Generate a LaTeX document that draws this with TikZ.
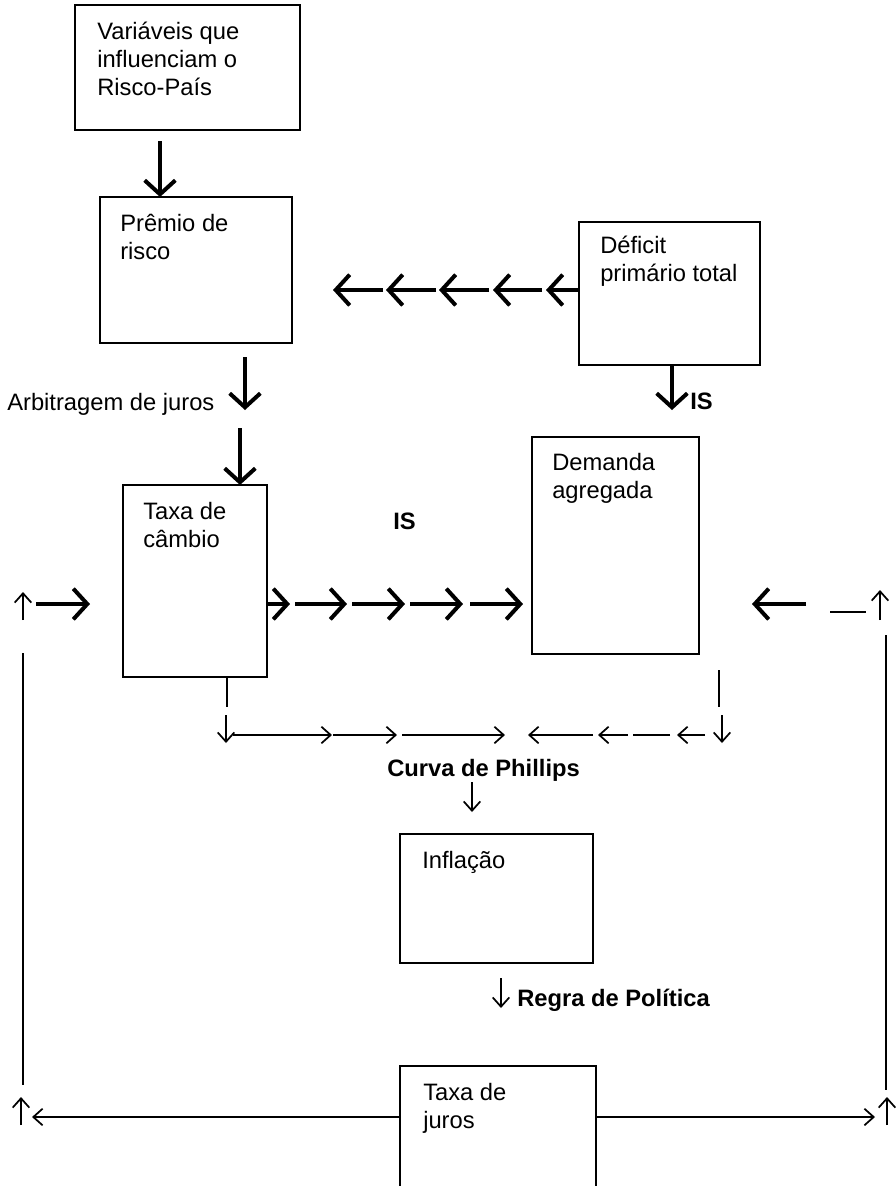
\documentclass[tikz,border=0pt]{standalone}
\usepackage{fontspec}
\setmainfont{Liberation Sans}
\usetikzlibrary{arrows.meta}
\begin{document}
\begin{tikzpicture}[x=0.75pt,y=-0.75pt,
  every node/.style={font=\fontsize{17.8pt}{21pt}\selectfont},
  box/.style={draw,line width=1.5pt,anchor=north west,inner sep=0pt,outer sep=0pt},
  txt/.style={anchor=base west,align=left,inner sep=0pt},
  bigarrow/.style={line width=3pt,-{Straight Barb[length=10.5pt,width=23pt]}},
  thinarrow/.style={line width=1.3pt,-{Straight Barb[length=7pt,width=12.5pt]}},
  thinline/.style={line width=1.3pt}]
\useasboundingbox (0,0) rectangle (896,1186);
\clip (0,0) rectangle (896,1186);
\fill[white] (0,0) rectangle (896,1186);

% boxes
\node[box,minimum width=168.75pt,minimum height=93.75pt] (b1) at (75,5) {};
\node[box,minimum width=144pt,minimum height=109.5pt] (b2) at (100,197) {};
\node[box,minimum width=108pt,minimum height=144pt] (b3) at (123,485) {};
\node[box,minimum width=125.25pt,minimum height=162.75pt] (b4) at (532,437) {};
\node[box,minimum width=135.75pt,minimum height=107.25pt] (b5) at (579,222) {};
\node[box,minimum width=147pt,minimum height=97.5pt] (b6) at (400,1066) {};
\node[box,minimum width=144.75pt,minimum height=96.75pt] (b7) at (400,834) {};

% texts (anchor at the baseline of the last line)
\node[txt] (t1) at (97,95) {Variáveis que\\influenciam o\\Risco-País};
\node[txt] (t2) at (120,259) {Prêmio de\\risco};
\node[txt] (t3) at (143,547) {Taxa de\\câmbio};
\node[txt] (t4) at (552,498) {Demanda\\agregada};
\node[txt] (t5) at (600,281) {Déficit\\primário total};
\node[txt] (t6) at (423,1128) {Taxa de\\juros};
\node[txt] (t7) at (422,868) {Inflação};
\node[txt] (arb) at (7,410) {Arbitragem de juros};
\node[txt] (is1) at (393,529) {\bfseries IS};
\node[txt] (is2) at (690,409) {\bfseries IS};
\node[txt] (cp) at (387,776) {\bfseries Curva de Phillips};
\node[txt] (rp) at (517,1006) {\bfseries Regra de Política};

% vertical thick arrows on the left column
\coordinate (a1s) at (160,141);
\draw[bigarrow] (a1s) -- (a1s |- b2.north);
\coordinate (a2s) at (245,357);
\coordinate (a2e) at (245,410);
\draw[bigarrow] (a2s) -- (a2e);
\coordinate (a3s) at (240,428);
\draw[bigarrow] (a3s) -- (a3s |- b3.north);

% chain to Demanda agregada
\coordinate (r1) at (290,604);
\coordinate (r2s) at (295,604); \coordinate (r2) at (347,604);
\coordinate (r3s) at (352,604); \coordinate (r3) at (405,604);
\coordinate (r4s) at (410,604); \coordinate (r4) at (463,604);
\coordinate (r5s) at (470,604); \coordinate (r5) at (523,604);
\draw[bigarrow] (r1 -| b3.east) -- (r1);
\draw[bigarrow] (r2s) -- (r2);
\draw[bigarrow] (r3s) -- (r3);
\draw[bigarrow] (r4s) -- (r4);
\draw[bigarrow] (r5s) -- (r5);

% chain from Deficit to the left
\coordinate (l1) at (546,290);
\coordinate (l2s) at (542,290); \coordinate (l2) at (493,290);
\coordinate (l3s) at (489,290); \coordinate (l3) at (439,290);
\coordinate (l4s) at (436,290); \coordinate (l4) at (386,290);
\coordinate (l5s) at (383,290); \coordinate (l5) at (333,290);
\draw[bigarrow] (l1 -| b5.west) -- (l1);
\draw[bigarrow] (l2s) -- (l2);
\draw[bigarrow] (l3s) -- (l3);
\draw[bigarrow] (l4s) -- (l4);
\draw[bigarrow] (l5s) -- (l5);

% Deficit down
\coordinate (d1) at (672,410);
\draw[bigarrow] (d1 |- b5.south) -- (d1);

% left loop
\coordinate (lu1) at (23,620); \coordinate (lu2) at (23,592);
\draw[thinarrow] (lu1) -- (lu2);
\coordinate (lr1) at (36,604); \coordinate (lr2) at (90,604);
\draw[bigarrow] (lr1) -- (lr2);
\coordinate (lv1) at (23,653); \coordinate (lv2) at (23,1085);
\draw[thinline] (lv1) -- (lv2);
\coordinate (lb1) at (21,1125); \coordinate (lb2) at (21,1097);
\draw[thinarrow] (lb1) -- (lb2);
\coordinate (lh) at (32,1117);
\draw[thinarrow] (lh -| b6.west) -- (lh);

% right loop
\coordinate (rr1) at (806,604); \coordinate (rr2) at (752,604);
\draw[bigarrow] (rr1) -- (rr2);
\coordinate (rd1) at (830,612); \coordinate (rd2) at (866,612);
\draw[line width=2pt] (rd1) -- (rd2);
\coordinate (ru1) at (880,620); \coordinate (ru2) at (880,590);
\draw[thinarrow] (ru1) -- (ru2);
\coordinate (rv1) at (886,635); \coordinate (rv2) at (886,1090);
\draw[thinline] (rv1) -- (rv2);
\coordinate (rb1) at (887,1125); \coordinate (rb2) at (887,1097);
\draw[thinarrow] (rb1) -- (rb2);
\coordinate (rh) at (875,1117);
\draw[thinarrow] (rh -| b6.east) -- (rh);

% Phillips connectors
\coordinate (pv1) at (227,707);
\draw[thinline] (pv1 |- b3.south) -- (pv1);
\coordinate (pd1) at (226,715); \coordinate (pd2) at (226,743);
\draw[thinarrow] (pd1) -- (pd2);
\coordinate (ph1s) at (233,735); \coordinate (ph1) at (332,735);
\coordinate (ph2s) at (333,735); \coordinate (ph2) at (397,735);
\coordinate (ph3s) at (402,735); \coordinate (ph3) at (505,735);
\draw[thinarrow] (ph1s) -- (ph1);
\draw[thinarrow] (ph2s) -- (ph2);
\draw[thinarrow] (ph3s) -- (ph3);
\coordinate (pq1s) at (593,735); \coordinate (pq1) at (528,735);
\coordinate (pq2s) at (628,735); \coordinate (pq2) at (598,735);
\coordinate (pq3s) at (670,735); \coordinate (pq3) at (633,735);
\coordinate (pq4s) at (705,735); \coordinate (pq4) at (677,735);
\draw[thinarrow] (pq1s) -- (pq1);
\draw[thinarrow] (pq2s) -- (pq2);
\draw[thinline] (pq3s) -- (pq3);
\draw[thinarrow] (pq4s) -- (pq4);
\coordinate (qv1) at (719,670); \coordinate (qv2) at (719,707);
\draw[thinline] (qv1) -- (qv2);
\coordinate (qd1) at (722,715); \coordinate (qd2) at (722,743);
\draw[thinarrow] (qd1) -- (qd2);

% down arrows to Inflacao and policy rule
\coordinate (cd1) at (472,782); \coordinate (cd2) at (472,812);
\draw[thinarrow] (cd1) -- (cd2);
\coordinate (rg1) at (501,978); \coordinate (rg2) at (501,1008);
\draw[thinarrow] (rg1) -- (rg2);
\end{tikzpicture}
\end{document}
